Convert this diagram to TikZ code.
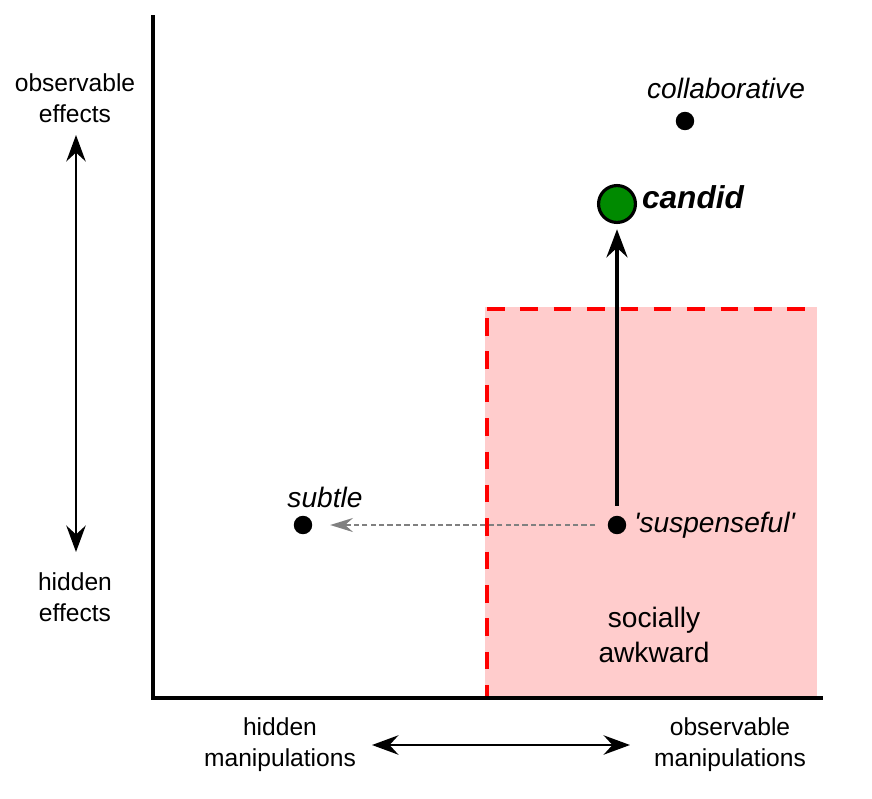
\documentclass[tikz,border=0pt]{standalone}
\usepackage{fontspec}
\setmainfont{Liberation Sans}
\usetikzlibrary{arrows.meta,positioning}
\definecolor{blush}{HTML}{FFCCCC}
\definecolor{alarm}{HTML}{FF0000}
\definecolor{leaf}{HTML}{008A00}
\definecolor{ash}{HTML}{808080}

\begin{document}
\begin{tikzpicture}[
    x=0.02cm, y=-0.02cm,
    every node/.style={font=\fontsize{14}{17.5}\selectfont, align=center},
    axis/.style={line width=2.6pt},
    dot/.style={circle, fill=black, inner sep=0pt, minimum size=10.5pt},
    pointlbl/.style={font=\fontsize{16}{19}\selectfont\itshape},
    dblarrow/.style={{Stealth[length=15pt, width=11pt, inset=5pt]}-{Stealth[length=15pt, width=11pt, inset=5pt]}, line width=1.5pt},
    moveup/.style={-{Stealth[length=16pt, width=12pt, inset=5.5pt]}, line width=2pt},
    moveleft/.style={-{Stealth[length=13pt, width=8pt, inset=4.5pt]}, ash, line width=1.1pt, dash pattern=on 3pt off 1.8pt},
    awkline/.style={alarm, line width=2.2pt, dash pattern=on 10pt off 9pt},
]
\useasboundingbox (0,0) rectangle (872,798);

% Socially awkward region
\fill[blush] (485,307) rectangle (817,697);
\draw[awkline] (487,309) -- (818,309);
\draw[awkline] (487,318) -- (487,697);
\node[font=\fontsize{16}{20}\selectfont] (awkward) at (654,635) {socially\\awkward};

% Axes
\coordinate (ytop) at (153,15);
\coordinate (origin) at (153,698);
\coordinate (xend) at (823,698);
\draw[axis] (ytop) -- (origin) -- (xend);

% Effects scale
\node (obseff) at (75,98) {observable\\effects};
\node (hideff) at (75,597) {hidden\\effects};
\coordinate (effup) at (76,135);
\coordinate (effdown) at (76,552);
\draw[dblarrow] (effup) -- (effdown);

% Manipulations scale
\node (hidman) at (280,745) {hidden\\manipulations};
\node (obsman) at (730,745) {observable\\manipulations};
\coordinate (manleft) at (372,745);
\coordinate (manright) at (630,745);
\draw[dblarrow] (manleft) -- (manright);

% Points
\node[dot] (collab) at (685,121) {};
\node[pointlbl] (collablbl) at (726,88) {collaborative};
\node[circle, draw=black, line width=1.8pt, fill=leaf, inner sep=0pt, minimum size=21pt] (candid) at (617,204) {};
\node[font=\fontsize{18}{21}\selectfont\bfseries\itshape] (candidlbl) at (693,197) {candid};
\node[dot] (susp) at (617,525) {};
\node[pointlbl, anchor=west] (susplbl) at (628,525) {\textquotesingle suspenseful\textquotesingle};
\node[dot] (subtle) at (303,525) {};
\node[pointlbl] (subtlelbl) at (325,497) {subtle};

% Moves away from the awkward region
\draw[moveup, shorten <=5.5pt, shorten >=3pt] (susp) -- (candid);
\draw[moveleft, shorten <=7pt, shorten >=10pt] (susp) -- (subtle);
\end{tikzpicture}
\end{document}
